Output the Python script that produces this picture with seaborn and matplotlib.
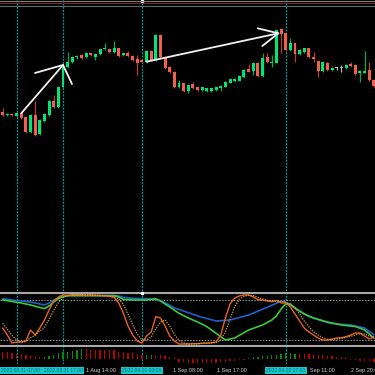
import numpy as np
import pandas as pd
import matplotlib
matplotlib.use("Agg")
import matplotlib.pyplot as plt
import seaborn as sns
from matplotlib.lines import Line2D
from matplotlib.patches import Rectangle

sns.set_theme(style="dark", rc={"axes.facecolor": "black", "figure.facecolor": "black",
                                "axes.grid": False, "savefig.facecolor": "black"})
plt.rcParams['font.family'] = ['Liberation Sans', 'DejaVu Sans']

# ---------------- price candles (H1) ----------------
OPEN = [188, 184.7, 185.3, 184.3, 186.7, 183.3, 167.7, 185, 165.7, 179.3,
        185, 199.3, 193.3, 212.7, 233.3, 237.7, 242.7, 245, 242.7, 246.7,
        242.7, 246, 250.7, 250.7, 247.7, 251.7, 245, 246.7, 244.3, 241,
        240, 238.3, 249.3, 240, 265, 241.7, 233.3, 228.3, 212.7, 216.7,
        209, 215.7, 212.7, 210, 209.3, 209.3, 210, 211.7, 213.3, 217.3,
        219, 219.3, 222.7, 231, 229, 237.3, 224, 242.7, 236.7, 237.3,
        270.7, 266.7, 250, 256.7, 245.7, 248.3, 251.7, 243.3, 239, 229.3,
        237.3, 230, 231.7, 232, 231.7, 235.7, 235, 226.7, 227.3, 230,
        220]
CLOSE = [185, 185.7, 184.7, 186.7, 181.7, 167.7, 185, 165, 180, 185.7,
         199.3, 193.3, 212.7, 235, 238.3, 242.7, 244.3, 241.7, 247.3, 245,
         246, 250.7, 251.7, 247.7, 251.7, 244.3, 246.7, 244.3, 240, 236.7,
         238.3, 249.3, 240, 265, 243.3, 231.7, 227.7, 213.3, 216.7, 209.3,
         215, 211.7, 210, 212.7, 211.7, 211.7, 212.7, 214, 218.3, 220.7,
         221, 224, 230, 228.3, 237.3, 224, 242.3, 237.7, 238.3, 270,
         266, 250, 256.7, 246, 250, 251.7, 242.7, 241, 229, 237.7,
         230, 232.3, 231.7, 232, 235, 234, 226, 229, 229, 220,
         214]
HIGH = [192, 187, 186, 187.5, 187.5, 184, 186, 199, 181, 187,
        200.5, 205, 214, 236, 248.3, 244, 245, 246, 248.5, 247.5,
        247, 251.5, 256.7, 251.5, 259, 252.5, 247.5, 249.3, 245, 245,
        241, 250, 250, 266, 266, 242.5, 234, 229, 220, 217.5,
        216, 218, 213.5, 213.5, 212.5, 212.5, 213.5, 214.7, 219, 221.5,
        221.7, 224.7, 230.7, 236, 238, 238, 246.7, 246.7, 245, 270.5,
        271.7, 267.5, 261.7, 257.5, 250.7, 252.5, 252.5, 248.3, 239.7, 238.5,
        238, 233, 233.3, 235, 235.7, 237.7, 235.7, 229.7, 249.3, 238.3,
        220.7]
LOW = [184, 184, 184, 183.5, 181, 167, 167, 164.5, 165, 178.5,
       184, 192.5, 192.5, 212, 232.5, 237, 241.5, 241, 242, 244,
       240, 245, 250, 247, 247, 243.5, 244, 243.5, 239, 225,
       237.5, 237.5, 239, 239, 242.5, 231, 227, 212.5, 212, 208.5,
       207.5, 211, 209, 209, 208.3, 208.5, 209.3, 209.3, 212.7, 216.7,
       218.3, 218.7, 222, 227.7, 225, 222.7, 223.3, 237, 233.3, 236.7,
       246.7, 249, 249, 238.3, 245, 247.5, 242, 238.3, 222.7, 228.5,
       229.3, 229.3, 230, 228.3, 231, 233.3, 225.3, 218.3, 226.7, 219.3,
       213.3]

# ---------------- stochastic-type oscillator ----------------
K_MAIN = [38, 27.5, 15.5, 17, 17, 18.5, 35, 27.5, 38, 50,
          65, 78.5, 84.5, 87.5, 87, 88, 88, 88, 87, 87.5,
          87, 86.5, 86, 85.5, 84, 75.5, 60.5, 41, 27.5, 18.5,
          15.5, 26, 32, 55, 53, 41, 26, 18.5, 14, 14,
          14, 14.5, 14.5, 15.5, 15.5, 16, 17, 27.5, 53, 74,
          83, 86, 87.5, 87.5, 84.5, 80.5, 80, 78.5, 77.5, 79,
          75.5, 75.5, 69.5, 59, 48.5, 38, 32, 27.5, 23, 20,
          20, 21.5, 23, 23.5, 25, 27.5, 30.5, 30.5, 26, 21.5,
          24.5]
K_SIGNAL = [45, 36, 27, 20, 16.5, 17.5, 23.5, 27, 33.5, 38.5,
            51, 64.5, 76, 83.5, 86.5, 87.5, 87.5, 88, 87.7, 87.5,
            87.2, 87, 86.5, 86, 85, 81.5, 73.5, 59, 43, 29,
            20.5, 20, 24.5, 37, 47, 50, 41, 28.5, 19.5, 15.5,
            14, 14.2, 14.3, 14.8, 15.2, 15.7, 16.2, 20, 32.5, 51.5,
            70, 81, 85.5, 87, 86.5, 84, 81.5, 79.5, 78.5, 78.5,
            77.5, 76.5, 73.5, 68, 59, 48.5, 39.5, 32.5, 27.5, 23.5,
            21, 20.5, 21.5, 22.5, 24, 25.5, 27.5, 29.5, 29, 26,
            24]
BLUE_IDX = [0, 2, 4, 6, 8, 9, 10, 11, 12, 13, 14, 24, 25, 26, 28, 33, 35, 37,
            40, 42.5, 46, 49, 53, 56.5, 59.8, 60.8, 63, 66, 70.5, 75, 78, 80]
BLUE_VAL = [82, 80, 78.5, 77, 74, 72.5, 75.5, 80, 83, 85, 86.5, 86.5, 86, 84, 82.5,
            81.5, 76, 68, 61, 55, 48.5, 50, 57.5, 67.5, 77.5, 77.5, 67.5, 55, 45,
            42.5, 38, 28]
GREEN_IDX = [0, 2, 4, 6, 8, 9, 10, 11, 12, 13, 14, 24, 25, 26, 28, 31, 33, 34, 35,
             36, 38, 40, 42, 44, 46, 48, 50, 53, 56, 58, 59, 60, 61, 62, 63, 65,
             67, 70, 73, 76, 78, 80]
GREEN_VAL = [80, 77.75, 75.5, 72.5, 68.75, 67, 71, 77, 82, 85, 86.5, 86.5, 84.5, 81,
             80, 80, 81.5, 78.5, 74, 69.5, 60, 53, 47, 40, 30, 20, 23, 35, 42.5, 50,
             56, 66.5, 74, 74, 68, 59, 53, 47, 42.5, 40.25, 35, 23]
LEVELS = [80, 20]

# ---------------- histogram window ----------------
HIST = [6.8, 6.8, 5.2, 4.5, 4.2, 3.5, 2.5, 2.5, 1.8, 1.8,
        2.8, 3.5, 5.2, 6.5, 6.8, 7.5, 8.5, 9.2, 9.2, 8.5,
        8.5, 8.5, 8.5, 8.5, 8.5, 6.8, 6.8, 5.2, 6.8, 4.5,
        4.0, 3.5, 4.0, 4.0, 3.5, 2.5, 1.5, 1.0, -3, -3.5,
        -4, -4, -4.5, -4.5, -4.5, -4, -4, -3.5, -3, -2.5,
        -2, -1.5, -1, 1, 1.5, 2, 2.5, 3, 3.5, 4,
        5, 5.5, 5.5, 5, 5, 5, 4.5, 4.5, 4, 3.5,
        3, 2.5, 2, 1.5, 1, -1, -1.5, -2, -2, -2.5,
        -3]
HIST_DIR = "RRRRRRRRRGGGGGGGGGRRRRRRRRRRRRRGGRRRRRRRRRRRRRRRRRRRRGGGGGGGGGGGRRRRRRRRRRRRRRRRRR"

# ---------------- chart objects ----------------
VLINE_IDX = [3, 13, 30, 61]
VLINE_LABELS = ["2022.08.31 07:00", "2022.08.31 17:00", "2022.09.01 03:00", "2022.09.02 17:00"]
TIME_IDX = [17.9, 36.6, 46.2, 66.3, 75.1]
TIME_LABELS = ["1 Aug 14:00", "1 Sep 08:00", "1 Sep 17:00", "Sep 11:00", "2 Sep 20:00"]
ARROW1_X = [4.0, 13.0]
ARROW1_Y = [186.7, 235]
HEAD1_X = [6.96, 13.0, 14.94]
HEAD1_Y = [227, 235, 216]
ARROW2_X = [31.0, 59.4]
ARROW2_Y = [238.3, 266.7]
HEAD2_X = [54.96, 59.4, 55.95]
HEAD2_Y = [271.7, 266.7, 254]

# ---------------- styling ----------------
UP = "#00e676"
DOWN = "#f0604a"
UP_WICK = "#00a855"
DOWN_WICK = "#b8402e"
NEUTRAL = "#b4b4b4"
VCOL = "#009a9a"
W, H = 375, 375
XLIM = (-0.58, 80.24)

df = pd.DataFrame({"open": OPEN, "high": HIGH, "low": LOW, "close": CLOSE})
df["idx"] = np.arange(len(df))
df["dir"] = np.sign(df["close"] - df["open"])
body_col = df["dir"].map({1: UP, -1: DOWN, 0: NEUTRAL})
wick_col = df["dir"].map({1: UP_WICK, -1: DOWN_WICK, 0: NEUTRAL})

fig = plt.figure(figsize=(W / 100, H / 100), dpi=100)

def frac(top_px, bottom_px):
    return [0, 1 - bottom_px / H, 1, (bottom_px - top_px) / H]

ax = fig.add_axes(frac(0, 291))
ax_osc = fig.add_axes(frac(293.3, 345.7))
ax_hist = fig.add_axes(frac(347, 364))
ax_time = fig.add_axes(frac(364, 375))

for a in (ax, ax_osc, ax_hist, ax_time):
    a.set_facecolor("black")
    a.set_xlim(*XLIM)
    a.set_xticks([])
    a.set_yticks([])
    for s in a.spines.values():
        s.set_visible(False)

# --- candles ---
bottoms = df[["open", "close"]].min(axis=1)
heights = (df["close"] - df["open"]).abs().clip(lower=0.9)
ax.vlines(df["idx"], df["low"], df["high"], colors=wick_col, lw=0.9, zorder=2)
ax.bar(df["idx"], heights, bottom=bottoms, width=0.64, color=body_col, linewidth=0, zorder=3)
ax.set_ylim(9, 300)

# --- drawn arrows ---
for xs, ys in ((ARROW1_X, ARROW1_Y), (HEAD1_X, HEAD1_Y), (ARROW2_X, ARROW2_Y), (HEAD2_X, HEAD2_Y)):
    ax.plot(xs, ys, color="#f2f2f2", lw=1.3, zorder=5, solid_capstyle="round")

# --- vertical lines through all windows ---
for a in (ax, ax_osc, ax_hist):
    for v in VLINE_IDX:
        a.axvline(v, color=VCOL, lw=0.9, ls=(0, (1.6, 1.0)), zorder=1)
ax.plot([VLINE_IDX[2]], [299], marker="s", ms=1.6, color="white", zorder=6)

# --- oscillator ---
sns.lineplot(x=BLUE_IDX, y=BLUE_VAL, ax=ax_osc, color="#1f5fc8", lw=1.2, zorder=3)
sns.lineplot(x=GREEN_IDX, y=GREEN_VAL, ax=ax_osc, color="#3cc83c", lw=1.2, zorder=4)
sns.lineplot(x=df["idx"], y=K_MAIN, ax=ax_osc, color="#e8621e", lw=1.0, zorder=5)
sns.lineplot(x=df["idx"], y=K_SIGNAL, ax=ax_osc, color="#d2a03a", lw=0.9, ls=(0, (1, 1)), zorder=6)
for lv in LEVELS:
    ax_osc.axhline(lv, color="#9a9a9a", lw=0.7, ls=(0, (1.5, 1.5)), zorder=2)
ax_osc.set_ylim(11.5, 90)
ax_osc.set_xlim(*XLIM)
ax_osc.set_xlabel("")
ax_osc.set_ylabel("")
for s in ("top", "bottom"):
    ax_osc.spines[s].set_visible(True)
    ax_osc.spines[s].set_color("#a8a8a8")
    ax_osc.spines[s].set_linewidth(1.5)
ax_osc.plot([VLINE_IDX[2]], [90], marker="s", ms=1.6, color="white", zorder=7, clip_on=False)

# --- histogram ---
hcol = ["#c00000" if c == "R" else "#0a8a0a" for c in HIST_DIR]
ax_hist.bar(df["idx"], HIST, width=0.28, color=hcol, linewidth=0, zorder=3)
ax_hist.set_ylim(-5.5, 11.5)

# --- time scale ---
ax_time.set_ylim(11, 0)
for i, t in zip(TIME_IDX, TIME_LABELS):
    ax_time.text(i, 6.6, t, color="#d0d0d0", fontsize=4.0, ha="left", va="center", zorder=2)
box_w = 9.0
for v, t in zip(VLINE_IDX, VLINE_LABELS):
    c = max(v, XLIM[0] + box_w / 2)
    ax_time.add_patch(Rectangle((c - box_w / 2, 3.2), box_w, 6.8, facecolor="#16c8cc",
                                edgecolor="none", zorder=4))
    ax_time.text(c, 6.6, t, color="#0a6f74", fontsize=3.6, ha="center", va="center", zorder=5)

# --- top border lines ---
for ypx, c in ((1.3, "#7c7c7c"), (3.0, "#6e2a22"), (6.0, "#6a6a6a")):
    fig.add_artist(Line2D([0, 1], [1 - ypx / H] * 2, transform=fig.transFigure, color=c, lw=0.8))

fig.savefig("out.png", dpi=100, facecolor="black")
